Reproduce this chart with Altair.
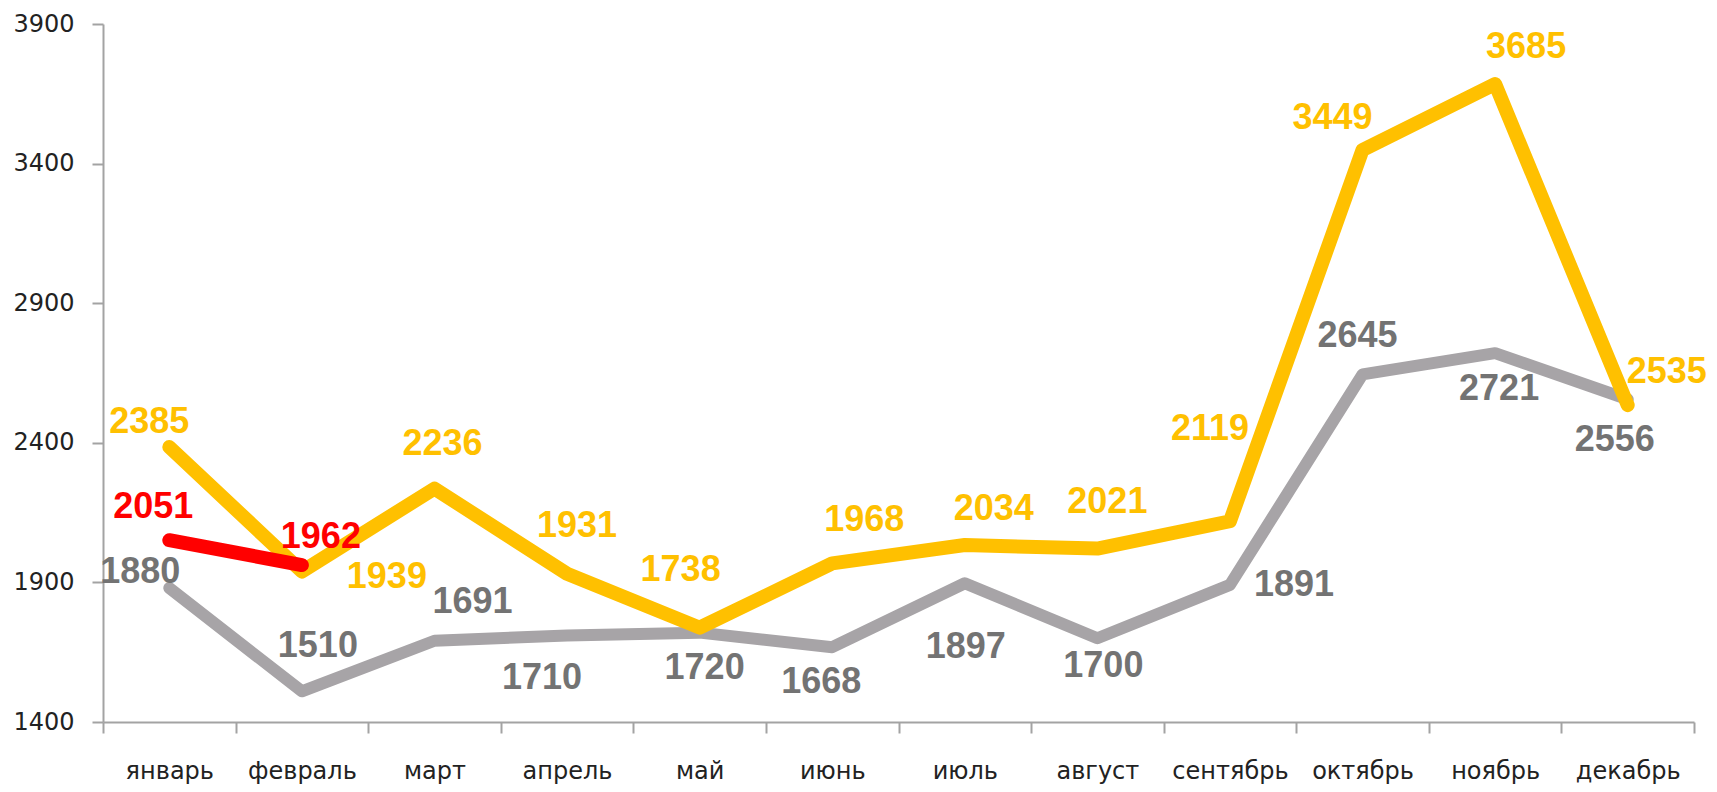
import altair as alt
import pandas as pd

# ---- data ----
months = ["январь", "февраль", "март", "апрель", "май", "июнь",
          "июль", "август", "сентябрь", "октябрь", "ноябрь", "декабрь"]
gray_values = [1880, 1510, 1691, 1710, 1720, 1668, 1897, 1700, 1891, 2645, 2721, 2556]
yellow_values = [2385, 1939, 2236, 1931, 1738, 1968, 2034, 2021, 2119, 3449, 3685, 2535]
red_months = ["январь", "февраль"]
red_values = [2051, 1962]
y_ticks = [1400, 1900, 2400, 2900, 3400, 3900]

# ---- label placement (pixel offsets from each point) ----
gray_dx = [-29, 16, 38, -25, 5, -11, 1, 6, 64, -5, 4, -13]
gray_dy = [-16, -45, -39, 43, 35, 35, 64, 28, 0, -38, 36, 41]
yellow_dx = [-20, 85, 8, 10, -19, 32, 29, 10, -20, -30, 31, 39]
yellow_dy = [-25, 5, -45, -48, -58, -43, -36, -47, -92, -32, -37, -33]
red_dx = [-16, 19]
red_dy = [-33, -28]

gray_df = pd.DataFrame({"month": months, "value": gray_values, "dx": gray_dx, "dy": gray_dy})
yellow_df = pd.DataFrame({"month": months, "value": yellow_values, "dx": yellow_dx, "dy": yellow_dy})
red_df = pd.DataFrame({"month": red_months, "value": red_values, "dx": red_dx, "dy": red_dy})

AXIS_COLOR = "#a3a3a3"
TEXT_COLOR = "#222222"

x_enc = alt.X(
    "month:N",
    sort=months,
    scale=alt.Scale(type="band", domain=months, paddingInner=0, paddingOuter=0),
    axis=alt.Axis(
        title=None, labelAngle=0, tickBand="extent", grid=False,
        tickSize=11, tickWidth=2, tickColor=AXIS_COLOR,
        domainColor=AXIS_COLOR, domainWidth=2,
        labelFont="DejaVu Sans", labelFontSize=24, labelColor=TEXT_COLOR,
        labelPadding=26,
    ),
)
y_enc = alt.Y(
    "value:Q",
    scale=alt.Scale(domain=[1400, 3900], nice=False, zero=False),
    axis=alt.Axis(
        title=None, values=y_ticks, grid=False, format="d",
        tickSize=11, tickWidth=2, tickColor=AXIS_COLOR,
        domainColor=AXIS_COLOR, domainWidth=2,
        labelFont="DejaVu Sans", labelFontSize=24, labelColor=TEXT_COLOR,
        labelPadding=18,
    ),
)


def line_layer(df, color, width):
    return alt.Chart(df).mark_line(
        color=color, strokeWidth=width, strokeCap="round", strokeJoin="round"
    ).encode(x=x_enc, y=y_enc)


def label_layer(df, color):
    return alt.Chart(df).mark_text(
        font="Liberation Sans", fontWeight="bold", fontSize=36, color=color,
        align="center", baseline="middle",
        dx={"expr": "datum.dx"}, dy={"expr": "datum.dy"},
    ).encode(x=x_enc, y=y_enc, text="value:Q")


chart = alt.layer(
    line_layer(gray_df, "#a7a4a7", 12),
    line_layer(yellow_df, "#ffc000", 14),
    line_layer(red_df, "#ff0000", 14),
    label_layer(gray_df, "#737373"),
    label_layer(yellow_df, "#ffc000"),
    label_layer(red_df, "#ff0000"),
).properties(
    width=1591, height=698,
    autosize=alt.AutoSizeParams(type="none"),
    padding={"left": 95, "top": 16, "right": 15, "bottom": 62},
    background="white",
).configure_view(stroke=None)

chart.save("out.html", embed_options={"renderer": "svg", "actions": False})
